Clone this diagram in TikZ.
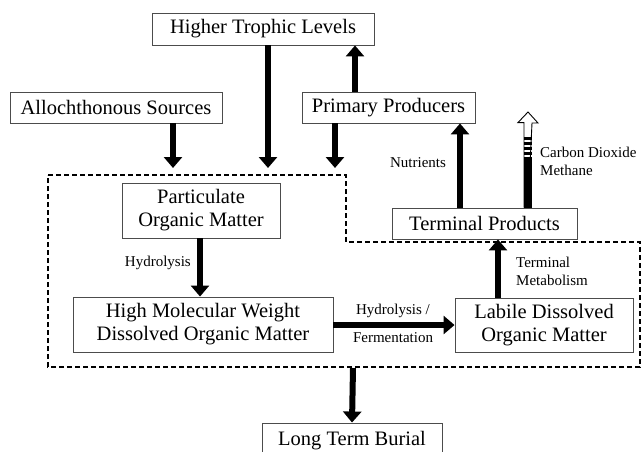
\documentclass[tikz,border=0pt]{standalone}
\usepackage{fontspec}
\setmainfont{Liberation Serif}
\usetikzlibrary{arrows.meta}
\begin{document}
\begin{tikzpicture}[x=1pt,y=-1pt,
  box/.style={draw=black!70, line width=0.9pt, inner sep=0pt, align=center,
    font=\fontsize{20.5}{23}\selectfont},
  lbl/.style={inner sep=0pt, align=left, font=\fontsize{15}{18}\selectfont},
  flow/.style={line width=6pt, -{Triangle[length=11pt,width=18pt]}},
  region/.style={line width=1.3pt, dash pattern=on 5pt off 3pt},
  hollow/.style={draw=black, line width=0.9pt, fill=white}]
\useasboundingbox (0,0) rectangle (642,451);

% boxes
\node[box, minimum width=222pt, minimum height=32pt] (htl) at (263,29) {Higher Trophic Levels};
\node[box, minimum width=212pt, minimum height=31pt] (allo) at (116,107.5) {Allochthonous Sources};
\node[box, minimum width=173pt, minimum height=31pt] (pp) at (388.5,107.5) {Primary Producers};
\node[box, minimum width=158pt, minimum height=55pt] (pom) at (201,210.5) {Particulate\\Organic Matter};
\node[box, minimum width=260pt, minimum height=55pt] (hmw) at (203,324.5) {High Molecular Weight\\Dissolved Organic Matter};
\node[box, minimum width=178pt, minimum height=54pt] (lab) at (544,325) {Labile Dissolved\\Organic Matter};
\node[box, minimum width=185pt, minimum height=31pt] (tp) at (484.5,223.5) {Terminal Products};
\node[box, minimum width=180pt, minimum height=36pt] (ltb) at (352,441) {Long Term Burial};

% dashed region
\draw[region] (48,175) -- (346,175) -- (346,242) -- (640,242) -- (640,367) -- (48,367) -- cycle;

% free ends on the region border
\coordinate (inA) at (173,168);
\coordinate (inB) at (268,168);
\coordinate (inC) at (335,168);
\coordinate (outD) at (353,368);
\coordinate (co2) at (528,112);

% arrows
\draw[flow] (allo.south -| inA) -- (inA);
\draw[flow] (htl.south -| inB) -- (inB);
\draw[flow] (pp.south -| inC) -- (inC);
\draw[flow] (pp.north -| 355,0) -- (htl.south -| 355,0);
\draw[flow] (pom.south -| 200,0) -- (hmw.north -| 200,0);
\draw[flow] (hmw.east |- 0,325) -- (lab.west |- 0,325);
\draw[flow] (lab.north -| 498,0) -- (tp.south -| 498,0);
\draw[flow] (tp.north -| 460,0) -- (pp.south -| 460,0);
\draw[flow] (outD) -- (ltb.north);

% carbon dioxide / methane arrow (hollow head, striped shaft)
\path (tp.north -| co2) coordinate (co2b);
\draw[hollow] (co2b) ++(-4,0) -- ++(0,-85) -- ++(-6,0) -- (co2) -- ++(10,11) -- ++(-6,0) -- (co2b) ++(4,0) -- cycle;
\fill (524,157) rectangle (532,208);
\foreach \y in {137,142,147,152} \fill (524,\y) rectangle (532,\y+2.5);

% labels
\node[lbl, anchor=east] (lhyd) at (191,263) {Hydrolysis};
\node[lbl] (lhf1) at (393,311) {Hydrolysis /};
\node[lbl] (lhf2) at (393,338) {Fermentation};
\node[lbl, anchor=west] (ltm) at (516,271) {Terminal\\Metabolism};
\node[lbl] (lnut) at (418,163) {Nutrients};
\node[lbl, anchor=west] (lco2) at (540,161) {Carbon Dioxide\\Methane};
\end{tikzpicture}
\end{document}
